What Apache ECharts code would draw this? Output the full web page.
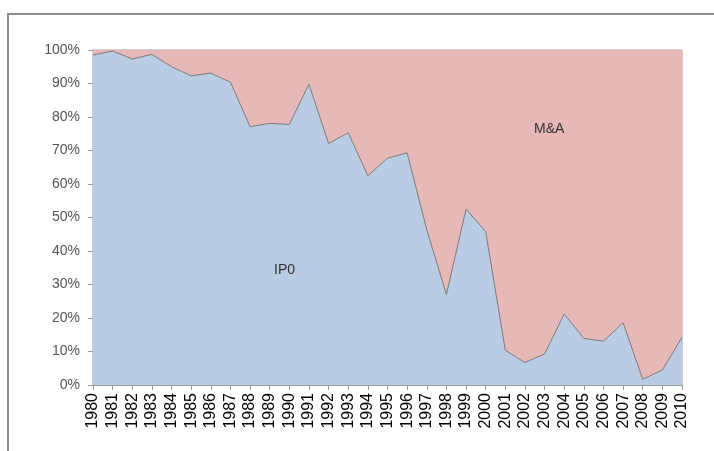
<!DOCTYPE html>
<html>
<head>
<meta charset="utf-8">
<script src="https://cdn.jsdelivr.net/npm/echarts@6/dist/echarts.min.js"></script>
<style>
html,body{margin:0;padding:0;background:#fff;}
#c{width:714px;height:451px;}
</style>
</head>
<body>
<div id="c"></div>
<script>
var years = ['1980','1981','1982','1983','1984','1985','1986','1987','1988','1989','1990','1991','1992','1993','1994','1995','1996','1997','1998','1999','2000','2001','2002','2003','2004','2005','2006','2007','2008','2009','2010'];
var ipoShare = [98.5,99.7,97.3,98.7,95.0,92.3,93.1,90.4,77.1,78.1,77.8,89.8,72.1,75.3,62.5,67.7,69.3,46.3,27.0,52.5,45.8,10.4,6.7,9.3,21.2,13.9,13.1,18.6,1.7,4.5,14.2];
var maShare = [1.5,0.3,2.7,1.3,5.0,7.7,6.9,9.6,22.9,21.9,22.2,10.2,27.9,24.7,37.5,32.3,30.7,53.7,73.0,47.5,54.2,89.6,93.3,90.7,78.8,86.1,86.9,81.4,98.3,95.5,85.8];
var seriesNames = ['IP0','M&A'];

var FONT = '"Liberation Sans",Arial,sans-serif';
var chart = echarts.init(document.getElementById('c'), null, {renderer:'canvas'});
chart.setOption({
  animation:false,
  backgroundColor:'#ffffff',
  grid:{left:93,right:32,top:50,bottom:66,show:true,borderColor:'#9a9a9a',borderWidth:1,backgroundColor:'transparent'},
  xAxis:{
    type:'category', data:years, boundaryGap:false,
    axisLine:{show:true,lineStyle:{color:'#9a9a9a',width:1}},
    axisTick:{show:true,length:5,alignWithLabel:true,lineStyle:{color:'#9a9a9a'}},
    axisLabel:{interval:0,rotate:90,margin:8,color:'#000',fontFamily:FONT,fontSize:16}
  },
  yAxis:{
    type:'value', min:0, max:100, interval:10,
    axisLine:{show:true,lineStyle:{color:'#9a9a9a',width:1}},
    axisTick:{show:true,length:5,lineStyle:{color:'#9a9a9a'}},
    splitLine:{show:false},
    axisLabel:{formatter:'{value}%',color:'#555',fontFamily:FONT,fontSize:14,margin:13}
  },
  series:[
    {name:seriesNames[0],type:'line',stack:'s',data:ipoShare,symbol:'none',
     lineStyle:{color:'#7a7a7a',width:1},areaStyle:{color:'#b9cce4',opacity:1}},
    {name:seriesNames[1],type:'line',stack:'s',data:maShare,symbol:'none',
     lineStyle:{width:0,opacity:0},areaStyle:{color:'#e6b8b7',opacity:1}}
  ],
  graphic:[
    {type:'rect',z:100,shape:{x:8,y:14,width:900,height:900},style:{fill:'none',stroke:'#8c8c8c',lineWidth:2},silent:true},
    {type:'text',z:100,left:534,top:122,style:{text:seriesNames[1],fill:'#333',fontSize:14,fontFamily:FONT}},
    {type:'text',z:100,left:274,top:263,style:{text:seriesNames[0],fill:'#333',fontSize:14,fontFamily:FONT}}
  ]
});
</script>
</body>
</html>
